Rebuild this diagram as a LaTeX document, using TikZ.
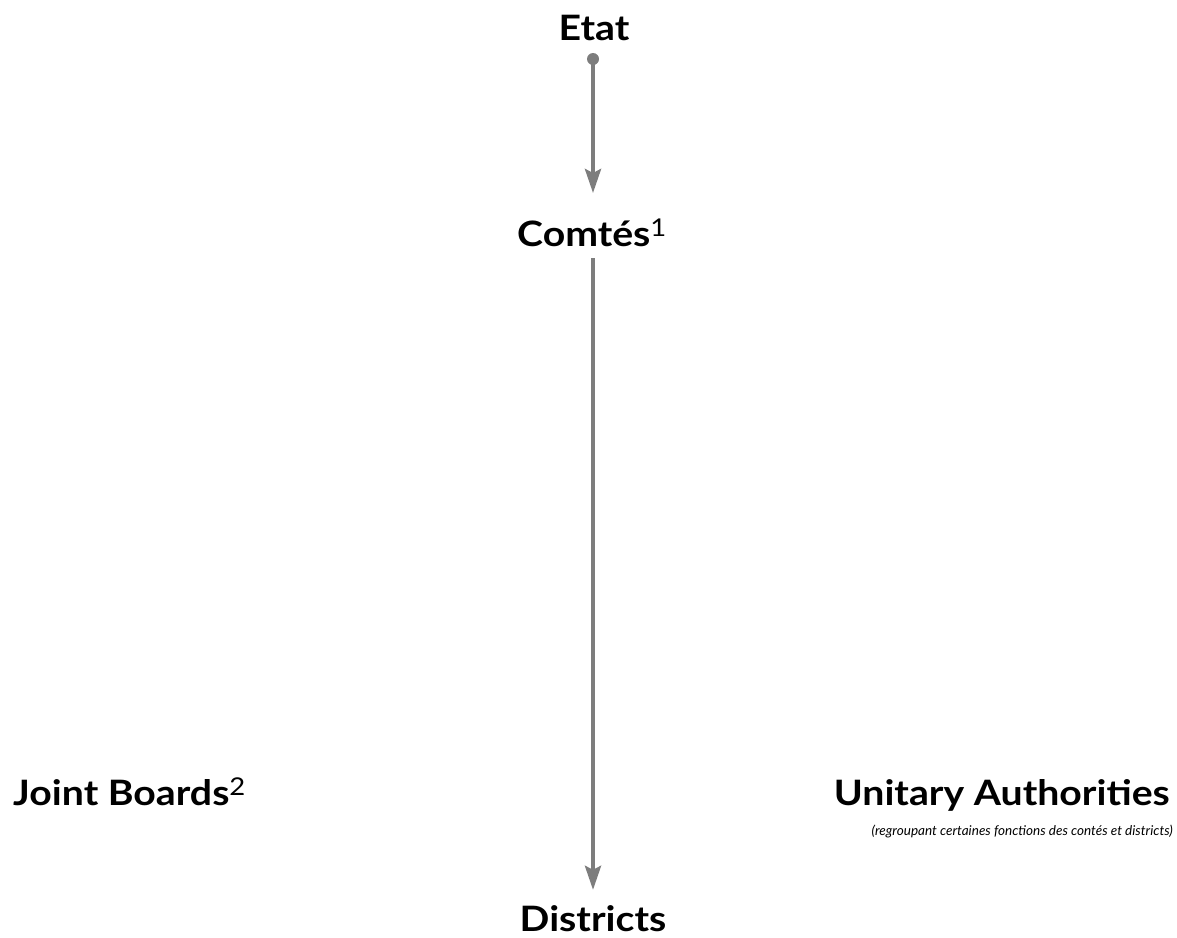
\documentclass[tikz,border=0pt]{standalone}
\usepackage{fontspec}
\setmainfont{Lato}
\newfontfamily\stufenfont{Lato}[FakeStretch=1.12]
\usetikzlibrary{arrows.meta,positioning}
\definecolor{linkgray}{RGB}{125,125,125}

\begin{document}
\begin{tikzpicture}[x=1pt, y=-1pt,
				>={Stealth[length=24pt,width=16pt,inset=4pt]},   %Pfeilspitzen
				niveau/.style={font=\stufenfont\fontsize{35}{38}\selectfont\bfseries, inner sep=0pt, anchor=base},
				notiz/.style={font=\fontsize{13.5}{16}\selectfont\itshape, inner sep=0pt, anchor=base east},
				lien/.style={->, draw=linkgray, fill=linkgray, line width=4pt}]
				%Bildbereich
				\useasboundingbox (0,0) rectangle (1177,937);
				% Ebenen
				\node[niveau] (etat) at (594,40) {Etat};
				\node[niveau] (comtes) at (592,246) {Comtés\textsuperscript{\mdseries 1}};
				\node[niveau] (districts) at (593,931) {Districts};
				\node[niveau, anchor=base west] (joint) at (13,805) {Joint Boards\textsuperscript{\mdseries 2}};
				\node[niveau, anchor=base east] (unitary) at (1170,805) {Unitary Authorities};
				\node[notiz] (unitnote) at (1173,835) {(regroupant certaines fonctions des contés et districts)};
				% Verbindungen
				\node[circle, fill=linkgray, minimum size=12pt, inner sep=0pt] (etatdot) at (593,59) {};
				\draw[lien] (etatdot.center) -- (etatdot.center |- 0,193);
				\draw[lien, shorten <=12pt, shorten >=15pt] (comtes.base -| etatdot) -- (districts.north -| etatdot);
			\end{tikzpicture}
\end{document}
